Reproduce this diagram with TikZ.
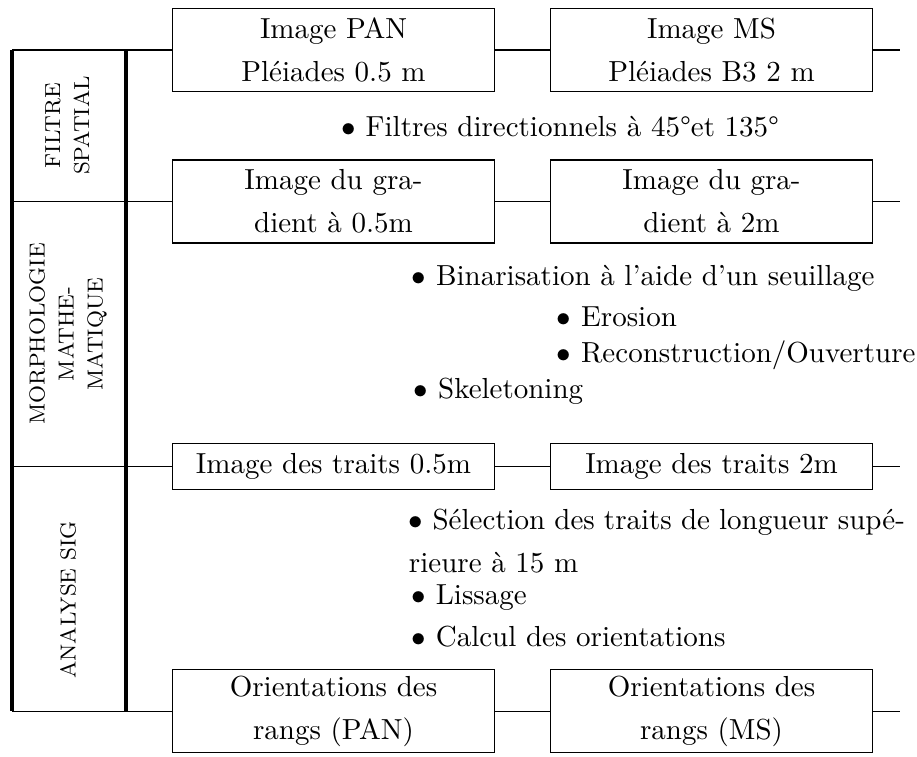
\documentclass[tikz,border=0pt]{standalone}
\usepackage{fontspec}
\begin{document}
\begin{tikzpicture}[x=0.3448pt,y=-0.3448pt,
  box/.style={draw,line width=0.4pt,minimum width=110.85pt,minimum height=28.62pt,inner sep=0pt,align=center,font={\linespread{1.236}\selectfont}},
  slim/.style={box,minimum height=15.69pt},
  link/.style={line width=0.4pt},
  rulebar/.style={line width=1.1pt},
  side/.style={rotate=90,align=center,font={\fontsize{7.5}{10}\selectfont},inner sep=0pt},
  item/.style={anchor=base west,inner sep=0pt}]
\useasboundingbox (0,0) rectangle (917,756);

% boxes
\node[box] (pan) at (333.5,50) {Image PAN\\Pléiades 0.5 m};
\node[box] (ms) at (711.5,50) {Image MS\\Pléiades B3 2 m};
\node[box] (g05) at (333.5,201.5) {Image du gra-\\dient à 0.5m};
\node[box] (g2) at (711.5,201.5) {Image du gra-\\dient à 2m};
\node[slim] (t05) at (333.5,466.5) {Image des traits 0.5m};
\node[slim] (t2) at (711.5,466.5) {Image des traits 2m};
\node[box] (o1) at (333.5,711.2) {Orientations des\\rangs (PAN)};
\node[box] (o2) at (711.5,711.2) {Orientations des\\rangs (MS)};

% free ends
\coordinate (a1) at (12,50);
\coordinate (a2) at (12,201.5);
\coordinate (a3) at (12,466.5);
\coordinate (a4) at (12,711.2);
\coordinate (b1) at (126,50);
\coordinate (b4) at (126,711.2);
\coordinate (e1) at (900,50);
\coordinate (e2) at (900,201.5);
\coordinate (e3) at (900,466.5);
\coordinate (e4) at (900,711.2);

% connectors
\draw[link] (a1) -- (pan.west) (pan.east) -- (ms.west) (ms.east) -- (e1);
\draw[link] (a2) -- (g05.west) (g05.east) -- (g2.west) (g2.east) -- (e2);
\draw[link] (a3) -- (t05.west) (t05.east) -- (t2.west) (t2.east) -- (e3);
\draw[link] (a4) -- (o1.west) (o1.east) -- (o2.west) (o2.east) -- (e4);
\draw[rulebar] (a1) -- (a4);
\draw[rulebar] (b1) -- (b4);

% side labels
\node[side] (fs) at (67.5,125.5) {FILTRE\\SPATIAL};
\node[side] (mm) at (68,334) {MORPHOLOGIE\\MATHE-\\MATIQUE};
\node[side] (as) at (68,600) {ANALYSE SIG};

% items
\node[item] (i1) at (341,136) {$\bullet$ Filtres directionnels à 45°et 135°};
\node[item] (i2) at (411.4,285) {$\bullet$ Binarisation à l’aide d’un seuillage};
\node[item] (i3) at (556.4,326) {$\bullet$ Erosion};
\node[item] (i4) at (556.4,362) {$\bullet$ Reconstruction/Ouverture};
\node[item] (i5) at (413.4,398) {$\bullet$ Skeletoning};
\node[item] (i6) at (408.4,529.3) {\makebox[171pt][s]{$\bullet$ Sélection des traits de longueur supé-}};
\node[item] (i7) at (408.4,572.7) {rieure à 15 m};
\node[item] (i8) at (411.1,604) {$\bullet$ Lissage};
\node[item] (i9) at (411.1,646) {$\bullet$ Calcul des orientations};
\end{tikzpicture}
\end{document}
